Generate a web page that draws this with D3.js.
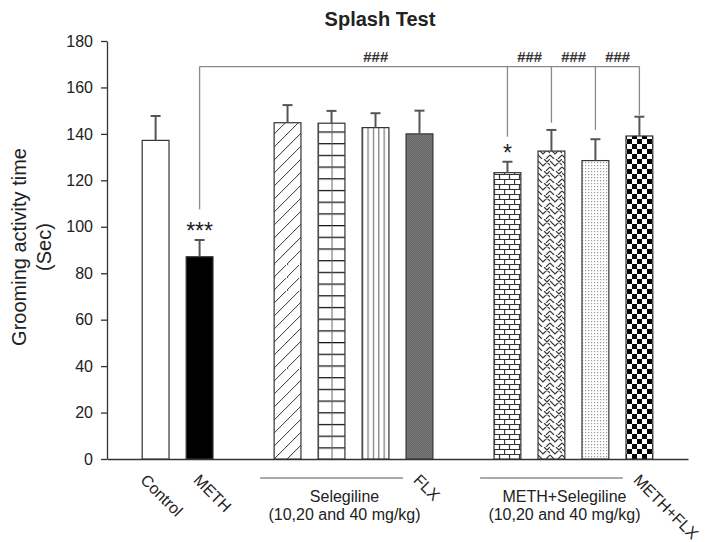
<!DOCTYPE html>
<html>
<head>
<meta charset="utf-8">
<script src="https://cdn.jsdelivr.net/npm/d3@7"></script>
<style>
  body { margin: 0; background: #fff; }
  svg { display: block; font-family: "Liberation Sans", Arial, sans-serif; }
</style>
</head>
<body>
<div id="chart"></div>
<script>
// Splash test bar chart, drawn with D3

// ---- data ----
const groups = ["Control", "METH", "Selegiline 10", "Selegiline 20", "Selegiline 40", "FLX",
    "METH+Selegiline 10", "METH+Selegiline 20", "METH+Selegiline 40", "METH+FLX"];
const means = [137.2, 87.1, 144.8, 144.6, 142.7, 140.0, 123.3, 132.6, 128.5, 139.1];
const sems = [10.5, 7.2, 7.6, 5.3, 6.2, 10.0, 4.7, 9.1, 9.2, 8.3];

// order on the x axis, with two empty slots between the groups
const slots = ["Control", "METH", "gap1", "Selegiline 10", "Selegiline 20", "Selegiline 40", "FLX",
    "gap2", "METH+Selegiline 10", "METH+Selegiline 20", "METH+Selegiline 40", "METH+FLX"];

const yTicks = [0, 20, 40, 60, 80, 100, 120, 140, 160, 180];
const xLabels = ["Control", "METH", "FLX", "METH+FLX"];

const groupSpans = [["Selegiline 10", "Selegiline 40"], ["METH+Selegiline 10", "METH+Selegiline 40"]];
const groupTitles = [["Selegiline", "(10,20 and 40 mg/kg)"], ["METH+Selegiline", "(10,20 and 40 mg/kg)"]];

// significance: vs control (stars) and vs METH (hashes)
const starGroups = ["METH", "METH+Selegiline 10"];
const starMarks = ["***", "*"];
const bracketLevel = 169;
const dropGroups = ["METH", "METH+Selegiline 10", "METH+Selegiline 20", "METH+Selegiline 40", "METH+FLX"];
const dropEnds = [107.5, 138.8, 144.8, 141.7, 148.1];
const hashPairs = [["METH", "METH+Selegiline 20"], ["METH+Selegiline 10", "METH+Selegiline 20"],
    ["METH+Selegiline 20", "METH+Selegiline 40"], ["METH+Selegiline 40", "METH+FLX"]];

// ---- layout ----
const width = 705, height = 542;
const fills = ["#ffffff", "#000000", "url(#pDiag)", "url(#pGrid)", "url(#pVlines)", "url(#pFlx)",
    "url(#pBrick)", "url(#pWeave)", "url(#pDots)", "url(#pCheck)"];
const ink = "#222";

const svg = d3.select("#chart").append("svg")
    .attr("width", width)
    .attr("height", height);

svg.append("rect").attr("width", width).attr("height", height).attr("fill", "#fff");

const x = d3.scaleBand()
    .domain(slots)
    .range([107, 688])
    .paddingInner(0.39)
    .paddingOuter(0.8);

const y = d3.scaleLinear()
    .domain([0, 180])
    .range([459, 41]);

const bw = x.bandwidth();

// ---- fill patterns ----
const defs = svg.append("defs");

function pattern(id, w, h, xOff) {
    return defs.append("pattern")
        .attr("id", id)
        .attr("patternUnits", "userSpaceOnUse")
        .attr("x", xOff || 0)
        .attr("y", y(0))
        .attr("width", w)
        .attr("height", h);
}

// diagonal hatch
var p = pattern("pDiag", 13, 13, x("Selegiline 10"));
p.append("rect").attr("width", 13).attr("height", 13).attr("fill", "#fff");
p.append("path").attr("d", "M0,13 L13,0 M-2,2 L2,-2 M11,15 L15,11")
    .attr("stroke", "#333").attr("stroke-width", 1);

// square grid
p = pattern("pGrid", bw / 2, 11.7, x("Selegiline 20"));
p.append("rect").attr("width", bw / 2).attr("height", 11.7).attr("fill", "#fff");
p.append("path").attr("d", "M0,0.6 H" + bw / 2).attr("stroke", "#111").attr("stroke-width", 1.3);
p.append("path").attr("d", "M0.5,0 V11.7").attr("stroke", "#666").attr("stroke-width", 1);

// vertical lines
p = pattern("pVlines", bw / 5, 10, x("Selegiline 40"));
p.append("rect").attr("width", bw / 5).attr("height", 10).attr("fill", "#fff");
p.append("path").attr("d", "M0.6,0 V10").attr("stroke", "#777").attr("stroke-width", 1.2);

// FLX: dark grey with a fine grain
p = pattern("pFlx", 2, 2, x("FLX"));
p.append("rect").attr("width", 2).attr("height", 2).attr("fill", "#7a7a7a");
p.append("rect").attr("width", 1).attr("height", 1).attr("fill", "#666");
p.append("rect").attr("x", 1).attr("y", 1).attr("width", 1).attr("height", 1).attr("fill", "#666");

// bricks
p = pattern("pBrick", 10, 10, x("METH+Selegiline 10"));
p.append("rect").attr("width", 10).attr("height", 10).attr("fill", "#fff");
p.append("path").attr("d", "M0,0.5 H10 M0,5.5 H10 M0.5,0.5 V5.5 M5.5,5.5 V10")
    .attr("stroke", "#333").attr("stroke-width", 1.2).attr("fill", "none");

// weave
p = pattern("pWeave", 12, 12, x("METH+Selegiline 20"));
p.append("rect").attr("width", 12).attr("height", 12).attr("fill", "#fff");
p.append("path").attr("d", "M0,2 L5,7 L10,2 M6,0 L12,6 M0,8 L4,12 M8,12 L12,8 M10,2 L12,0")
    .attr("stroke", "#333").attr("stroke-width", 1.1).attr("fill", "none");

// fine dots
p = pattern("pDots", 3, 3, x("METH+Selegiline 40"));
p.append("rect").attr("width", 3).attr("height", 3).attr("fill", "#fff");
p.append("rect").attr("width", 1.2).attr("height", 1.2).attr("fill", "#999");

// checkerboard
p = pattern("pCheck", 10, 10, x("METH+FLX") + 1);
p.append("rect").attr("width", 10).attr("height", 10).attr("fill", "#fff");
p.append("rect").attr("width", 5).attr("height", 5).attr("fill", "#000");
p.append("rect").attr("x", 5).attr("y", 5).attr("width", 5).attr("height", 5).attr("fill", "#000");

// ---- axes ----
const yAxis = svg.append("g")
    .attr("transform", "translate(107,0)")
    .call(d3.axisLeft(y).tickValues(yTicks).tickSize(6).tickSizeOuter(0).tickPadding(8));
yAxis.select(".domain").attr("stroke", "#333").attr("stroke-width", 1.3);
yAxis.selectAll(".tick line").attr("stroke", "#333").attr("stroke-width", 1.3);
yAxis.selectAll(".tick text").attr("fill", ink)
    .style("font-size", "16px").style("font-family", "'Liberation Sans', Arial, sans-serif");

const xAxis = svg.append("g")
    .attr("transform", "translate(0," + y(0) + ")")
    .call(d3.axisBottom(x).tickSize(0).tickSizeOuter(0).tickFormat(""));
xAxis.select(".domain").attr("stroke", "#333").attr("stroke-width", 1.3);

// ---- bars and error bars ----
const data = groups.map((g, i) => ({ group: g, mean: means[i], sem: sems[i], fill: fills[i] }));

svg.append("g").selectAll("rect")
    .data(data)
    .enter()
    .append("rect")
    .attr("x", d => x(d.group))
    .attr("y", d => y(d.mean))
    .attr("width", bw)
    .attr("height", d => y(0) - y(d.mean))
    .attr("fill", d => d.fill)
    .attr("stroke", "#333")
    .attr("stroke-width", 1.2);

const err = svg.append("g").attr("stroke", "#555").attr("stroke-width", 2);
err.selectAll("line.stem")
    .data(data)
    .enter()
    .append("line")
    .attr("class", "stem")
    .attr("x1", d => x(d.group) + bw / 2)
    .attr("x2", d => x(d.group) + bw / 2)
    .attr("y1", d => y(d.mean))
    .attr("y2", d => y(d.mean + d.sem));
err.selectAll("line.cap")
    .data(data)
    .enter()
    .append("line")
    .attr("class", "cap")
    .attr("x1", d => x(d.group) + bw / 2 - 5)
    .attr("x2", d => x(d.group) + bw / 2 + 5)
    .attr("y1", d => y(d.mean + d.sem))
    .attr("y2", d => y(d.mean + d.sem));

// ---- significance marks ----
const cx = g => x(g) + bw / 2;
const meanOf = g => means[groups.indexOf(g)] + sems[groups.indexOf(g)];

svg.append("g").selectAll("text")
    .data(starGroups)
    .enter()
    .append("text")
    .attr("x", d => cx(d))
    .attr("y", d => y(meanOf(d)) - 1)
    .attr("text-anchor", "middle")
    .attr("fill", ink)
    .style("font-size", "23px")
    .text((d, i) => starMarks[i]);

const br = svg.append("g").attr("stroke", "#8a8a8a").attr("stroke-width", 1.3).attr("fill", "none");
br.append("line")
    .attr("x1", cx(dropGroups[0]))
    .attr("x2", cx(dropGroups[dropGroups.length - 1]))
    .attr("y1", y(bracketLevel))
    .attr("y2", y(bracketLevel));
br.selectAll("line.drop")
    .data(dropGroups)
    .enter()
    .append("line")
    .attr("class", "drop")
    .attr("x1", d => cx(d))
    .attr("x2", d => cx(d))
    .attr("y1", y(bracketLevel))
    .attr("y2", (d, i) => y(dropEnds[i]));

svg.append("g").selectAll("text")
    .data(hashPairs)
    .enter()
    .append("text")
    .attr("x", d => (cx(d[0]) + cx(d[1])) / 2)
    .attr("y", y(bracketLevel) - 5)
    .attr("text-anchor", "middle")
    .attr("fill", "#333")
    .style("font-size", "15px")
    .style("font-weight", "bold")
    .style("font-style", "italic")
    .text("###");

// ---- x labels ----
svg.append("g").selectAll("text")
    .data(xLabels)
    .enter()
    .append("text")
    .attr("transform", d => "translate(" + (cx(d) - (d === "Control" ? 16 : 7)) + ",481) rotate(45)")
    .attr("fill", ink)
    .style("font-size", "16px")
    .text(d => d);

groupSpans.forEach((span, i) => {
    const x0 = x(span[0]) - 14;
    const x1 = x(span[1]) + bw + 14;
    svg.append("line")
        .attr("x1", x0).attr("x2", x1)
        .attr("y1", 478).attr("y2", 478)
        .attr("stroke", "#aaa").attr("stroke-width", 2);
    const t = svg.append("text")
        .attr("x", (x0 + x1) / 2 + 13)
        .attr("y", 502)
        .attr("text-anchor", "middle")
        .attr("fill", ink)
        .style("font-size", "16px");
    t.append("tspan").attr("x", (x0 + x1) / 2 + 13).text(groupTitles[i][0]);
    t.append("tspan").attr("x", (x0 + x1) / 2 + 13).attr("dy", 18).text(groupTitles[i][1]);
});

// ---- titles ----
svg.append("text")
    .attr("x", 380)
    .attr("y", 26)
    .attr("text-anchor", "middle")
    .attr("fill", ink)
    .style("font-size", "20px")
    .style("font-weight", "bold")
    .text("Splash Test");

const yTitle = svg.append("text")
    .attr("transform", "translate(26,247) rotate(-90)")
    .attr("text-anchor", "middle")
    .attr("fill", ink)
    .style("font-size", "20px");
yTitle.append("tspan").attr("x", 0).attr("y", 0).text("Grooming activity time");
yTitle.append("tspan").attr("x", 0).attr("dy", 25).text("(Sec)");
</script>
</body>
</html>
